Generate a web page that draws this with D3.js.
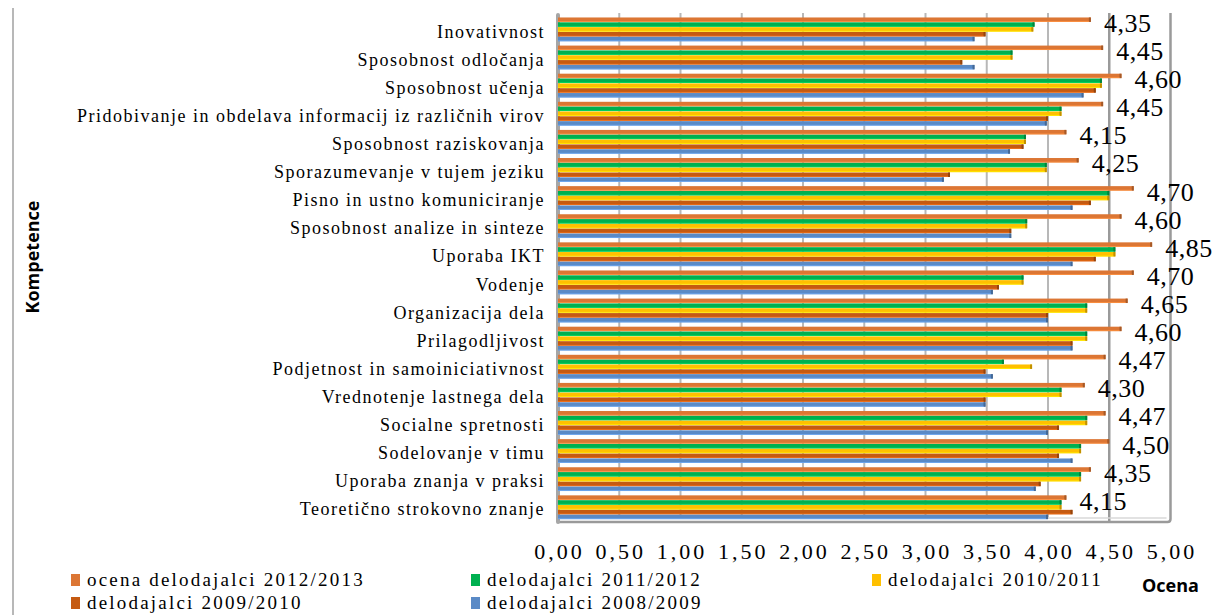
<!DOCTYPE html>
<html lang="sl">
<head>
<meta charset="utf-8">
<title>Kompetence - ocena delodajalcev</title>
<style>
body { margin: 0; background: #fff; }
text { font-family: "Liberation Serif", "Times New Roman", serif; fill: #000; }
.sans { font-family: "Open Sans", "Liberation Sans", sans-serif; font-weight: bold; }
</style>
<script src="https://cdn.jsdelivr.net/npm/d3@7"></script>
</head>
<body>
<div id="chart"></div>
<script>
// competences, top to bottom
var categories = ["Inovativnost", "Sposobnost odločanja", "Sposobnost učenja",
    "Pridobivanje in obdelava informacij iz različnih virov", "Sposobnost raziskovanja",
    "Sporazumevanje v tujem jeziku", "Pisno in ustno komuniciranje",
    "Sposobnost analize in sinteze", "Uporaba IKT", "Vodenje", "Organizacija dela",
    "Prilagodljivost", "Podjetnost in samoiniciativnost", "Vrednotenje lastnega dela",
    "Socialne spretnosti", "Sodelovanje v timu", "Uporaba znanja v praksi",
    "Teoretično strokovno znanje"];

var seriesNames = ["ocena delodajalci 2012/2013", "delodajalci 2011/2012",
    "delodajalci 2010/2011", "delodajalci 2009/2010", "delodajalci 2008/2009"];
var seriesColors = ["#dc7634", "#00b050", "#ffc000", "#c55a11", "#5a8ac6"];

var v2013 = [4.35, 4.45, 4.60, 4.45, 4.15, 4.25, 4.70, 4.60, 4.85, 4.70, 4.65, 4.60, 4.47, 4.30, 4.47, 4.50, 4.35, 4.15];
var v2012 = [3.89, 3.71, 4.44, 4.11, 3.82, 3.99, 4.50, 3.83, 4.55, 3.80, 4.32, 4.32, 3.64, 4.11, 4.32, 4.27, 4.27, 4.11];
var v2011 = [3.88, 3.71, 4.44, 4.11, 3.82, 3.99, 4.50, 3.83, 4.55, 3.80, 4.32, 4.32, 3.87, 4.11, 4.32, 4.27, 4.27, 4.11];
var v2010 = [3.49, 3.30, 4.39, 4.00, 3.80, 3.20, 4.35, 3.70, 4.39, 3.60, 4.00, 4.20, 3.49, 3.49, 4.09, 4.09, 3.94, 4.20];
var v2009 = [3.40, 3.40, 4.29, 3.99, 3.69, 3.15, 4.20, 3.70, 4.20, 3.55, 4.00, 4.20, 3.55, 3.49, 4.00, 4.20, 3.90, 4.00];
var seriesValues = [v2013, v2012, v2011, v2010, v2009];

var xTicks = [0, 0.5, 1, 1.5, 2, 2.5, 3, 3.5, 4, 4.5, 5];

var width = 1214, height = 615;
var plotTop = 13, plotBottom = 522;

var svg = d3.select("#chart").append("svg")
    .attr("width", width)
    .attr("height", height);

var x = d3.scaleLinear().domain([0, 5]).range([558, 1170.5]);
var y = d3.scaleBand().domain(categories).range([15.5, 521.5])
    .paddingInner(0.14).paddingOuter(0.07);
var ys = d3.scaleBand().domain(d3.range(seriesNames.length)).range([0, y.bandwidth()]);

var fmt = function(v) { return d3.format(".2f")(v).replace(".", ","); };

// outer frame line on the left
svg.append("line")
    .attr("x1", 13).attr("x2", 13).attr("y1", 8).attr("y2", height)
    .style("stroke", "#a0a0a0").style("stroke-width", "1.5px");

// gridlines (back wall)
svg.selectAll("line.grid")
    .data(xTicks.filter(function(d) { return d > 0 && d < 4.5; }))
    .enter()
    .append("line")
        .attr("class", "grid")
        .attr("x1", function(d) { return x(d); })
        .attr("x2", function(d) { return x(d); })
        .attr("y1", plotTop)
        .attr("y2", plotBottom - 3)
        .style("stroke", "#b8b8b8")
        .style("stroke-width", "2px");

svg.append("line")
    .attr("x1", x(4.5)).attr("x2", x(4.5)).attr("y1", plotTop).attr("y2", plotBottom)
    .style("stroke", "#9a9a9a").style("stroke-width", "2.5px");
svg.append("path")
    .attr("d", "M" + x(5) + "," + plotTop + "V" + (plotBottom - 3) +
        "Q" + x(5) + "," + plotBottom + " " + (x(5) - 3) + "," + plotBottom + "H" + x(0))
    .style("fill", "none").style("stroke", "#9a9a9a").style("stroke-width", "2.5px");
svg.append("line")
    .attr("x1", x(0)).attr("x2", x(5) - 4).attr("y1", plotBottom - 4).attr("y2", plotBottom - 4)
    .style("stroke", "#d8d8d8").style("stroke-width", "1.5px");
svg.append("line")
    .attr("x1", x(0)).attr("x2", x(0)).attr("y1", plotTop + 2).attr("y2", plotBottom)
    .style("stroke", "#a6a6a6").style("stroke-width", "4px")
    .style("stroke-linecap", "round");

// bars
var rows = [];
categories.forEach(function(c, i) {
    seriesValues.forEach(function(vals, s) {
        rows.push({ cat: c, s: s, value: vals[i] });
    });
});

var bars = svg.append("g").selectAll("g.bar")
    .data(rows)
    .enter()
    .append("g")
        .attr("class", "bar");

bars.append("rect")
    .attr("x", x(0))
    .attr("y", function(d) { return y(d.cat) + ys(d.s); })
    .attr("width", function(d) { return x(d.value) - x(0); })
    .attr("height", ys.bandwidth() - 0.4)
    .style("fill", function(d) { return seriesColors[d.s]; });

// darker end cap and light lower edge for the 3d look
bars.append("rect")
    .attr("x", function(d) { return x(d.value) - 2; })
    .attr("y", function(d) { return y(d.cat) + ys(d.s); })
    .attr("width", 2)
    .attr("height", ys.bandwidth() - 0.4)
    .style("fill", function(d) { return d3.color(seriesColors[d.s]).darker(0.8); });
bars.append("rect")
    .attr("x", x(0))
    .attr("y", function(d) { return y(d.cat) + ys(d.s) + ys.bandwidth() - 1.2; })
    .attr("width", function(d) { return x(d.value) - x(0) - 2; })
    .attr("height", 0.8)
    .style("fill", function(d) { return d3.color(seriesColors[d.s]).brighter(0.6); });

// value labels for 2012/2013
svg.selectAll("text.val")
    .data(categories)
    .enter()
    .append("text")
        .attr("class", "val")
        .attr("x", function(d, i) { return x(v2013[i]) + 13; })
        .attr("y", function(d) { return y(d) + ys(0) + ys.bandwidth() / 2 + 12; })
        .style("font-size", "26px")
        .style("letter-spacing", "0.5px")
        .text(function(d, i) { return fmt(v2013[i]); });

// category labels
svg.selectAll("text.cat")
    .data(categories)
    .enter()
    .append("text")
        .attr("class", "cat")
        .attr("x", 545)
        .attr("y", function(d) { return y(d) + y.bandwidth() / 2 + 8; })
        .attr("text-anchor", "end")
        .style("font-size", "18px")
        .style("letter-spacing", "1.5px")
        .text(function(d) { return d; });

// x axis labels
svg.selectAll("text.tick")
    .data(xTicks)
    .enter()
    .append("text")
        .attr("class", "tick")
        .attr("x", function(d) { return x(d) + 1.5; })
        .attr("y", 559)
        .attr("text-anchor", "middle")
        .style("font-size", "22px")
        .style("letter-spacing", "3px")
        .text(function(d) { return fmt(d); });

// axis titles
svg.append("text")
    .attr("class", "sans")
    .attr("transform", "translate(39,257) rotate(-90)")
    .attr("text-anchor", "middle")
    .style("font-size", "18px")
    .text("Kompetence");
svg.append("text")
    .attr("class", "sans")
    .attr("x", 1142).attr("y", 592)
    .style("font-size", "18px")
    .text("Ocena");

// legend
var legendPos = [[71, 580], [471, 580], [872, 580], [71, 603], [471, 603]];
var legend = svg.selectAll("g.legend")
    .data(seriesNames)
    .enter()
    .append("g")
        .attr("class", "legend")
        .attr("transform", function(d, i) { return "translate(" + legendPos[i][0] + "," + legendPos[i][1] + ")"; });
legend.append("rect")
    .attr("x", 0).attr("y", -6).attr("width", 9).attr("height", 12)
    .style("fill", function(d, i) { return seriesColors[i]; });
legend.append("text")
    .attr("x", 16).attr("y", 6)
    .style("font-size", "19px")
    .style("letter-spacing", "2.2px")
    .text(function(d) { return d; });
</script>
</body>
</html>
